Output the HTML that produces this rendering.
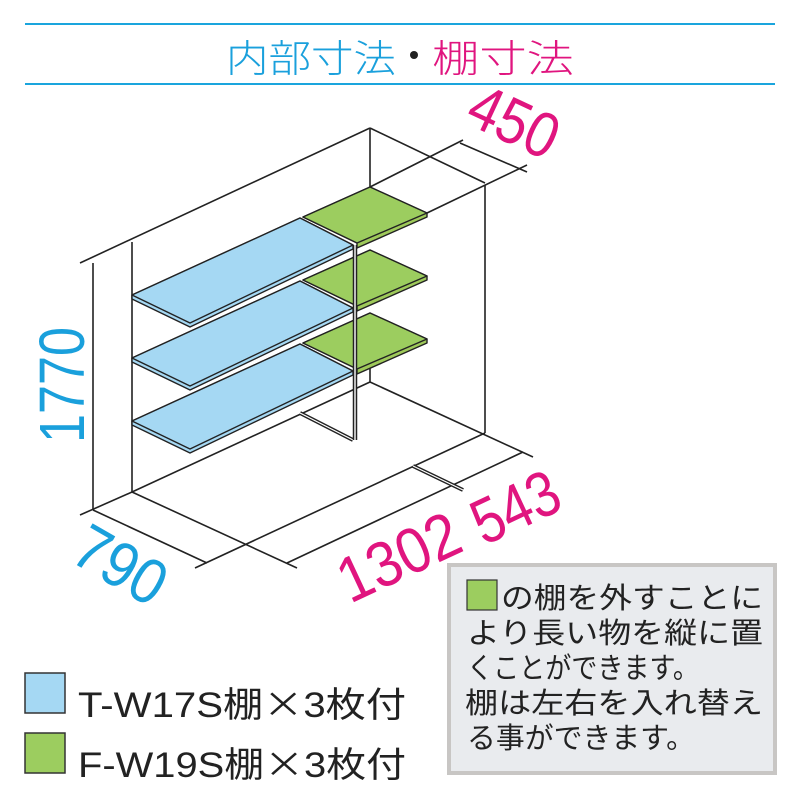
<!DOCTYPE html>
<html><head><meta charset="utf-8"><style>
html,body{margin:0;padding:0;background:#fff;}
svg{display:block;}
</style></head><body>
<svg width="800" height="800" viewBox="0 0 800 800" xmlns="http://www.w3.org/2000/svg" font-family="'Liberation Sans','Noto Sans CJK JP',sans-serif">
<rect width="800" height="800" fill="#fff"/>
<!-- title -->
<line x1="25" y1="24" x2="775" y2="24" stroke="#1aa5dd" stroke-width="2"/>
<line x1="25" y1="84" x2="775" y2="84" stroke="#1aa5dd" stroke-width="2"/>
<text x="226" y="72" font-size="38" fill="#1aa0dc" font-family="'Noto Sans CJK JP',sans-serif" font-weight="300" textLength="170" lengthAdjust="spacingAndGlyphs">内部寸法</text>
<circle cx="414" cy="55" r="4" fill="#222"/>
<text x="432" y="72" font-size="38" fill="#e0157f" font-family="'Noto Sans CJK JP',sans-serif" font-weight="300" textLength="142" lengthAdjust="spacingAndGlyphs">棚寸法</text>

<g stroke="#222" stroke-width="1.6" fill="none">
<!-- frame -->
<line x1="80" y1="263" x2="370" y2="128"/>
<line x1="370" y1="128" x2="485" y2="183"/>
<line x1="370" y1="128" x2="370" y2="190"/>
<line x1="93" y1="263" x2="93" y2="510"/>
<line x1="132" y1="242" x2="132" y2="492"/>
<line x1="485" y1="185" x2="485" y2="433"/>
<line x1="370" y1="187" x2="463" y2="140"/>
<line x1="427" y1="213" x2="527" y2="165"/>
<line x1="460" y1="143" x2="527" y2="172"/>
<line x1="370" y1="368" x2="370" y2="382"/>
<line x1="370" y1="382" x2="533" y2="457"/>
<line x1="80" y1="515" x2="132" y2="492"/>
<line x1="132" y1="492" x2="370" y2="382"/>
<line x1="93" y1="510" x2="207" y2="563"/>
<line x1="132" y1="492" x2="297" y2="568"/>
<line x1="195" y1="568" x2="485" y2="433"/>
<line x1="287" y1="563" x2="523" y2="452"/>
</g>
<!-- floor rail -->
<line x1="413" y1="466" x2="463" y2="490" stroke="#222" stroke-width="4"/>
<line x1="413" y1="466" x2="463" y2="490" stroke="#fff" stroke-width="1.2"/>
<!-- brace -->
<line x1="300" y1="413" x2="353" y2="440" stroke="#222" stroke-width="4"/>
<line x1="300" y1="413" x2="353" y2="440" stroke="#fff" stroke-width="1.2"/>

<!-- shelves -->
<g stroke="#222" stroke-width="1.4" stroke-linejoin="round">
<g>
<polygon points="303,217 370,187 427,213 427,217 357,248 357,243" fill="#9ec95a"/>
<polygon points="303,217 370,187 427,213 357,243" fill="#9ccd5f"/>
<polygon points="132,295 300,218 353,245 353,249 190,327 132,299" fill="#a5d8f3"/>
<polygon points="132,295 300,218 353,245 190,323" fill="#a5d8f3"/>
</g>
<g transform="translate(0,63)">
<polygon points="303,217 370,187 427,213 427,217 357,248 357,243" fill="#9ec95a"/>
<polygon points="303,217 370,187 427,213 357,243" fill="#9ccd5f"/>
<polygon points="132,295 300,218 353,245 353,249 190,327 132,299" fill="#a5d8f3"/>
<polygon points="132,295 300,218 353,245 190,323" fill="#a5d8f3"/>
</g>
<g transform="translate(0,126)">
<polygon points="303,217 370,187 427,213 427,217 357,248 357,243" fill="#9ec95a"/>
<polygon points="303,217 370,187 427,213 357,243" fill="#9ccd5f"/>
<polygon points="132,295 300,218 353,245 353,249 190,327 132,299" fill="#a5d8f3"/>
<polygon points="132,295 300,218 353,245 190,323" fill="#a5d8f3"/>
</g>
</g>
<!-- post -->
<line x1="355" y1="245" x2="355" y2="440" stroke="#222" stroke-width="4.5"/>
<line x1="355" y1="245" x2="355" y2="440" stroke="#fff" stroke-width="1.4"/>

<!-- dimension labels -->
<text transform="translate(84,443) rotate(-90)" font-size="64" fill="#1aa0dc" textLength="116" lengthAdjust="spacingAndGlyphs">1770</text>
<text transform="translate(68,560) rotate(30)" font-size="64" fill="#1aa0dc" textLength="96" lengthAdjust="spacingAndGlyphs">790</text>
<text transform="translate(350,604) rotate(-25)" font-size="64" fill="#e0157f" textLength="128" lengthAdjust="spacingAndGlyphs">1302</text>
<text transform="translate(484,546) rotate(-25)" font-size="64" fill="#e0157f" textLength="90" lengthAdjust="spacingAndGlyphs">543</text>
<text transform="translate(463,122) rotate(25)" font-size="64" fill="#e0157f" textLength="92" lengthAdjust="spacingAndGlyphs">450</text>

<!-- note box -->
<rect x="449" y="565" width="326" height="208" fill="#e9ebee" stroke="#c8c6c4" stroke-width="4"/>
<rect x="467" y="580" width="30" height="30" fill="#9ccd5f" stroke="#333" stroke-width="1.2"/>
<g font-size="29" fill="#222">
<text x="501" y="608" textLength="262" lengthAdjust="spacingAndGlyphs">の棚を外すことに</text>
<text x="467" y="643" textLength="296" lengthAdjust="spacingAndGlyphs">より長い物を縦に置</text>
<text x="467" y="678" textLength="232" lengthAdjust="spacingAndGlyphs">くことができます。</text>
<text x="465" y="713" textLength="298" lengthAdjust="spacingAndGlyphs">棚は左右を入れ替え</text>
<text x="467" y="748" textLength="228" lengthAdjust="spacingAndGlyphs">る事ができます。</text>
</g>

<!-- legend -->
<rect x="25" y="673" width="40" height="40" fill="#a5d8f3" stroke="#333" stroke-width="1.5"/>
<rect x="25" y="733" width="40" height="40" fill="#9ccd5f" stroke="#333" stroke-width="1.5"/>
<text x="78" y="717" font-size="35" fill="#222" textLength="328" lengthAdjust="spacingAndGlyphs">T-W17S棚<tspan font-family="'Noto Sans CJK JP',sans-serif">×</tspan>3枚付</text>
<text x="78" y="777" font-size="35" fill="#222" textLength="328" lengthAdjust="spacingAndGlyphs">F-W19S棚<tspan font-family="'Noto Sans CJK JP',sans-serif">×</tspan>3枚付</text>
</svg>
</body></html>
